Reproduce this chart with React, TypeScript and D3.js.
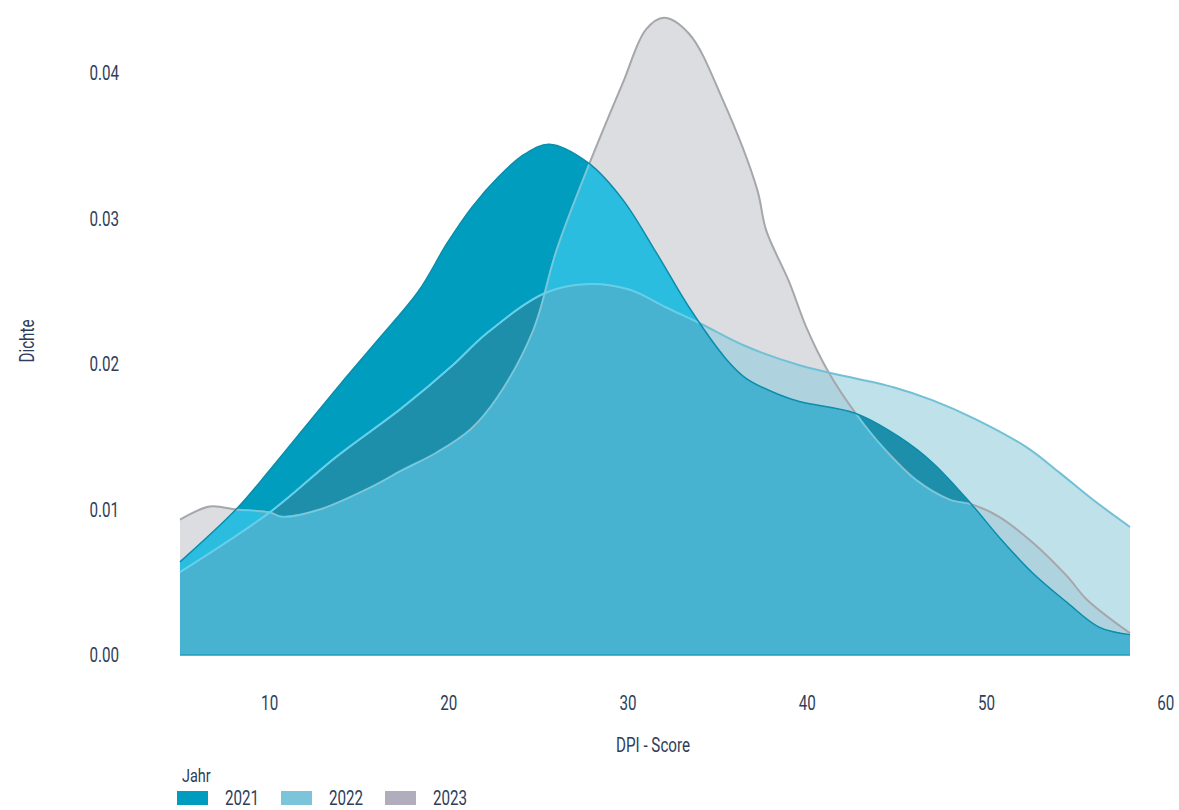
import React from "react";
import * as d3 from "d3";

const years = ["2021", "2022", "2023"];

const density2021: [number, number][] = [
  [5.0, 0.0064], [8.2, 0.0101], [10.0, 0.0127], [12.0, 0.0157], [14.0, 0.0187],
  [16.0, 0.0216], [18.3, 0.025], [19.9, 0.0283], [21.3, 0.0308], [22.8, 0.0329],
  [24.2, 0.0344], [25.6, 0.0351], [27.8, 0.0338], [29.7, 0.0313], [31.6, 0.0276],
  [33.4, 0.0239], [35.5, 0.0203], [36.6, 0.019], [38.4, 0.0179], [39.6, 0.0174],
  [42.7, 0.0166], [45.1, 0.015], [47.0, 0.0132], [49.2, 0.0103], [50.7, 0.0081],
  [52.6, 0.0056], [54.5, 0.0036], [56.3, 0.0019], [58.0, 0.0014],
];

const density2022: [number, number][] = [
  [5.0, 0.0057], [10.0, 0.0098], [13.7, 0.0136], [17.4, 0.017], [20.2, 0.0199],
  [22.1, 0.0221], [25.4, 0.0249], [27.85, 0.0255], [30.1, 0.0251], [32.1, 0.0239],
  [34.0, 0.0228], [36.6, 0.0212], [39.6, 0.0199], [44.8, 0.0184], [47.0, 0.0175],
  [49.4, 0.0162], [52.2, 0.0143], [54.1, 0.0125], [55.9, 0.0107], [58.0, 0.0088],
];

const density2023: [number, number][] = [
  [5.0, 0.0093], [6.65, 0.0102], [8.16, 0.01], [10.0, 0.0098], [10.7, 0.0095],
  [12.8, 0.01], [15.6, 0.0115], [17.4, 0.0127], [19.3, 0.0139], [21.2, 0.0155],
  [22.7, 0.0177], [24.7, 0.0223], [26.0, 0.0278], [27.85, 0.0338], [29.7, 0.0393],
  [31.0, 0.043], [32.0, 0.0438], [33.4, 0.0427], [35.3, 0.0381], [37.2, 0.032],
  [37.7, 0.0292], [39.0, 0.0256], [39.95, 0.0225], [41.2, 0.0194], [42.7, 0.0166],
  [44.2, 0.0143], [46.1, 0.012], [47.9, 0.0107], [49.3, 0.0103], [50.7, 0.0095],
  [52.6, 0.0077], [54.5, 0.0054], [55.6, 0.0038], [58.0, 0.0015],
];

const xTicks = [10, 20, 30, 40, 50, 60];
const yTicks = [0, 0.01, 0.02, 0.03, 0.04];

const legendColors = ["#009cbf", "#7bc4d9", "#b0aebc"];

const FONT = "Roboto, 'DejaVu Sans', sans-serif";
const TEXT = "#2e3e5a";
const SQUEEZE = 0.76;

function CText(props: {
  x: number;
  y: number;
  size: number;
  anchor?: "start" | "middle" | "end";
  rotate?: number;
  children: React.ReactNode;
}) {
  const { x, y, size, anchor = "start", rotate = 0, children } = props;
  return (
    <g transform={`translate(${x},${y}) rotate(${rotate}) scale(${SQUEEZE},1)`}>
      <text dy="0.35em" textAnchor={anchor} fontSize={size} fill={TEXT}>
        {children}
      </text>
    </g>
  );
}

export default function App() {
  const x = d3.scaleLinear().domain([5, 58]).range([180, 1130]);
  const y = d3.scaleLinear().domain([0, 0.04]).range([655, 73]);

  const curve = d3.curveCatmullRom.alpha(0.5);
  const area = d3
    .area<[number, number]>()
    .x((d) => x(d[0]))
    .y0(y(0))
    .y1((d) => y(d[1]))
    .curve(curve);
  const line = d3
    .line<[number, number]>()
    .x((d) => x(d[0]))
    .y((d) => y(d[1]))
    .curve(curve);

  const a21 = area(density2021) || "";
  const a22 = area(density2022) || "";
  const a23 = area(density2023) || "";
  const l21 = line(density2021) || "";
  const l22 = line(density2022) || "";
  const l23 = line(density2023) || "";
  const fmt = d3.format(".2f");

  return (
    <svg
      width={1179}
      height={810}
      style={{ position: "absolute", left: 0, top: 0, background: "#fff" }}
      fontFamily={FONT}
    >
      <defs>
        <clipPath id="c21"><path d={a21} /></clipPath>
        <clipPath id="c22"><path d={a22} /></clipPath>
        <clipPath id="c23"><path d={a23} /></clipPath>
      </defs>

      <path d={a23} fill="#dcdde0" />
      <path d={a22} fill="#bee1ea" />
      <path d={a21} fill="#019dbf" />
      <path d={a22} fill="#aed3df" clipPath="url(#c23)" />
      <path d={a21} fill="#1e8fab" clipPath="url(#c22)" />
      <path d={a21} fill="#2bbddf" clipPath="url(#c23)" />
      <g clipPath="url(#c22)">
        <path d={a21} fill="#47b3d0" clipPath="url(#c23)" />
      </g>

      <path d={l23} fill="none" stroke="#a6a7ab" strokeWidth={2} />
      <path d={l22} fill="none" stroke="#72c0d6" strokeWidth={2} />
      <g clipPath="url(#c21)">
        <path d={l23} fill="none" stroke="#5ed2ee" strokeWidth={1.4} />
        <path d={l22} fill="none" stroke="#5ed2ee" strokeWidth={1.6} />
      </g>
      <path d={l21} fill="none" stroke="#0b8dac" strokeWidth={1.5} />
      <line x1={x(5)} x2={x(58)} y1={y(0)} y2={y(0)} stroke="#1d9dbd" strokeWidth={1.5} />

      {yTicks.map((t) => (
        <CText key={t} x={119} y={y(t)} size={20} anchor="end">
          {fmt(t)}
        </CText>
      ))}
      {xTicks.map((t) => (
        <CText key={t} x={x(t)} y={703} size={20} anchor="middle">
          {t}
        </CText>
      ))}

      <CText x={653} y={745} size={20} anchor="middle">DPI - Score</CText>
      <CText x={27} y={341} size={20} anchor="middle" rotate={-90}>Dichte</CText>

      <CText x={182} y={775} size={19}>Jahr</CText>
      {years.map((yr, i) => (
        <g key={yr}>
          <rect x={177 + i * 104} y={791} width={31} height={14} fill={legendColors[i]} />
          <CText x={225 + i * 104} y={798} size={20}>{yr}</CText>
        </g>
      ))}
    </svg>
  );
}
